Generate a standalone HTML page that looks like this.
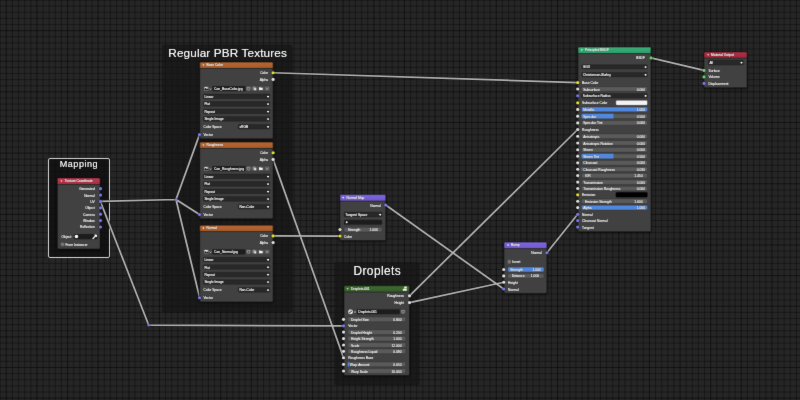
<!DOCTYPE html>
<html><head><meta charset="utf-8"><title>Node Editor</title>
<style>
html,body{margin:0;padding:0;}
body{width:800px;height:400px;overflow:hidden;will-change:transform;background:#262626;position:relative;font-family:"Liberation Sans",sans-serif;color:#eeeeee;}
svg{position:absolute;left:0;top:0;}
div{position:absolute;white-space:nowrap;}
#all{left:0;top:0;width:800px;height:400px;overflow:hidden;background:#262626;filter:url(#soft);}
.f{fill:#141414;fill-opacity:0.68;stroke:#000;stroke-opacity:0.25;stroke-width:0.5;}
.fsel{fill:#0c0c0c;fill-opacity:0.72;stroke:#d4d4d4;stroke-width:1;}
.fl{color:#fafafa;text-shadow:0 0 0 rgba(250,250,250,0.7),0 0.4px 1px rgba(0,0,0,0.8);}
.nb{fill:#414141;}
.no{fill:none;stroke:#141414;stroke-width:0.6;}
.sk{stroke:#0c0c0c;stroke-width:0.45;paint-order:stroke;}
.dd{fill:#282828;stroke:#1a1a1a;stroke-width:0.35;}
.nf{fill:#5a5a5a;stroke:#2c2c2c;stroke-width:0.35;}
.tf{fill:#1c1c1c;stroke:#353535;stroke-width:0.35;}
.bt{fill:#5a5a5a;stroke:#2e2e2e;stroke-width:0.35;}
.sw{stroke:#1a1a1a;stroke-width:0.35;}
.cb{fill:#747474;stroke:#929292;stroke-width:0.45;}
.t{color:#eeeeee;font-size:3.3px;line-height:4px;text-shadow:0 0 0 #eeeeee,0 0.3px 0.7px rgba(0,0,0,0.9);}
</style>
</head><body>
<svg width="0" height="0"><defs><filter id="soft" x="0" y="0" width="100%" height="100%" color-interpolation-filters="sRGB"><feConvolveMatrix order="3" kernelMatrix="0.0064 0.0672 0.0064 0.0672 0.7056 0.0672 0.0064 0.0672 0.0064" edgeMode="duplicate" preserveAlpha="true"/></filter></defs></svg>
<div id="all">
<svg width="800" height="400" viewBox="0 0 800 400">
<defs><filter id="sh" x="-20%" y="-20%" width="140%" height="140%"><feGaussianBlur stdDeviation="1.1"/></filter><linearGradient id="g1" x1="0" y1="0" x2="0" y2="1"><stop offset="0" stop-color="#c83a50"/><stop offset="1" stop-color="#a82c42"/></linearGradient><linearGradient id="g2" x1="0" y1="0" x2="0" y2="1"><stop offset="0" stop-color="#ba6833"/><stop offset="1" stop-color="#a6592a"/></linearGradient><linearGradient id="g3" x1="0" y1="0" x2="0" y2="1"><stop offset="0" stop-color="#ba6833"/><stop offset="1" stop-color="#a6592a"/></linearGradient><linearGradient id="g4" x1="0" y1="0" x2="0" y2="1"><stop offset="0" stop-color="#ba6833"/><stop offset="1" stop-color="#a6592a"/></linearGradient><linearGradient id="g5" x1="0" y1="0" x2="0" y2="1"><stop offset="0" stop-color="#8068e0"/><stop offset="1" stop-color="#7058cc"/></linearGradient><linearGradient id="g6" x1="0" y1="0" x2="0" y2="1"><stop offset="0" stop-color="#3f6b31"/><stop offset="1" stop-color="#355f28"/></linearGradient><linearGradient id="g7" x1="0" y1="0" x2="0" y2="1"><stop offset="0" stop-color="#8068e0"/><stop offset="1" stop-color="#7058cc"/></linearGradient><linearGradient id="g8" x1="0" y1="0" x2="0" y2="1"><stop offset="0" stop-color="#3bb07a"/><stop offset="1" stop-color="#2c9f69"/></linearGradient><linearGradient id="g9" x1="0" y1="0" x2="0" y2="1"><stop offset="0" stop-color="#b63248"/><stop offset="1" stop-color="#9e2638"/></linearGradient></defs>
<path d="M-18.2 0V400M-12.07 0V400M-5.95 0V400M0.18 0V400M12.43 0V400M18.55 0V400M24.68 0V400M30.8 0V400M43.05 0V400M49.17 0V400M55.3 0V400M61.42 0V400M73.67 0V400M79.8 0V400M85.92 0V400M92.05 0V400M104.3 0V400M110.42 0V400M116.55 0V400M122.67 0V400M134.93 0V400M141.05 0V400M147.18 0V400M153.3 0V400M165.55 0V400M171.68 0V400M177.8 0V400M183.93 0V400M196.18 0V400M202.3 0V400M208.43 0V400M214.55 0V400M226.8 0V400M232.93 0V400M239.05 0V400M245.18 0V400M257.43 0V400M263.55 0V400M269.68 0V400M275.8 0V400M288.05 0V400M294.18 0V400M300.3 0V400M306.43 0V400M318.68 0V400M324.8 0V400M330.93 0V400M337.05 0V400M349.3 0V400M355.43 0V400M361.55 0V400M367.68 0V400M379.93 0V400M386.05 0V400M392.18 0V400M398.3 0V400M410.55 0V400M416.68 0V400M422.8 0V400M428.93 0V400M441.18 0V400M447.3 0V400M453.43 0V400M459.55 0V400M471.8 0V400M477.93 0V400M484.05 0V400M490.18 0V400M502.43 0V400M508.55 0V400M514.67 0V400M520.8 0V400M533.05 0V400M539.17 0V400M545.3 0V400M551.42 0V400M563.67 0V400M569.8 0V400M575.92 0V400M582.05 0V400M594.3 0V400M600.42 0V400M606.55 0V400M612.67 0V400M624.92 0V400M631.05 0V400M637.17 0V400M643.3 0V400M655.55 0V400M661.67 0V400M667.8 0V400M673.92 0V400M686.17 0V400M692.3 0V400M698.42 0V400M704.55 0V400M716.8 0V400M722.92 0V400M729.05 0V400M735.17 0V400M747.42 0V400M753.55 0V400M759.67 0V400M765.8 0V400M778.05 0V400M784.17 0V400M790.3 0V400M796.42 0V400M0 -24.5H800M0 -18.38H800M0 -12.25H800M0 -6.12H800M0 6.12H800M0 12.25H800M0 18.38H800M0 24.5H800M0 36.75H800M0 42.88H800M0 49H800M0 55.12H800M0 67.38H800M0 73.5H800M0 79.62H800M0 85.75H800M0 98H800M0 104.12H800M0 110.25H800M0 116.38H800M0 128.62H800M0 134.75H800M0 140.88H800M0 147H800M0 159.25H800M0 165.38H800M0 171.5H800M0 177.62H800M0 189.88H800M0 196H800M0 202.12H800M0 208.25H800M0 220.5H800M0 226.62H800M0 232.75H800M0 238.88H800M0 251.12H800M0 257.25H800M0 263.38H800M0 269.5H800M0 281.75H800M0 287.88H800M0 294H800M0 300.12H800M0 312.38H800M0 318.5H800M0 324.62H800M0 330.75H800M0 343H800M0 349.12H800M0 355.25H800M0 361.38H800M0 373.62H800M0 379.75H800M0 385.88H800M0 392H800" stroke="#0a0a0a" stroke-width="0.47" fill="none"/>
<path d="M-24.32 0V400M6.3 0V400M36.92 0V400M67.55 0V400M98.17 0V400M128.8 0V400M159.43 0V400M190.05 0V400M220.68 0V400M251.3 0V400M281.93 0V400M312.55 0V400M343.18 0V400M373.8 0V400M404.43 0V400M435.05 0V400M465.68 0V400M496.3 0V400M526.92 0V400M557.55 0V400M588.17 0V400M618.8 0V400M649.42 0V400M680.05 0V400M710.67 0V400M741.3 0V400M771.92 0V400M0 -30.62H800M0 0H800M0 30.62H800M0 61.25H800M0 91.88H800M0 122.5H800M0 153.12H800M0 183.75H800M0 214.38H800M0 245H800M0 275.62H800M0 306.25H800M0 336.88H800M0 367.5H800M0 398.12H800" stroke="#050505" stroke-width="0.56" fill="none"/>
<rect x="162.4" y="45" width="130" height="267.4" rx="2" class="f"/>
<rect x="334.5" y="262.5" width="84.8" height="122.5" rx="2" class="f"/>
<rect x="48.5" y="158.5" width="61" height="99" rx="1.5" class="fsel"/>
<path d="M273.1 72.75L577.7 82.55M273.1 159.4L343.55 357.75M273.1 235.9L340 236M100.4 201.46L176 199.5M176 199.5L199.5 134.6M176 199.5L199.5 214.6M176 199.5L199.6 297.5M100.4 201.46L148.75 325.2M148.75 325.2L343.55 325.9M385.7 205L503.75 289M409.5 295.8L577.7 129.5M409.5 302.6L503.75 282.25M546.9 252.75L577.7 214.3M651 57.95L704 70.4" stroke="#0a0a0a" stroke-width="2.9" fill="none" stroke-linecap="round" opacity="0.85"/>
<path d="M273.1 72.75L577.7 82.55M273.1 159.4L343.55 357.75M273.1 235.9L340 236M100.4 201.46L176 199.5M176 199.5L199.5 134.6M176 199.5L199.5 214.6M176 199.5L199.6 297.5M100.4 201.46L148.75 325.2M148.75 325.2L343.55 325.9M385.7 205L503.75 289M409.5 295.8L577.7 129.5M409.5 302.6L503.75 282.25M546.9 252.75L577.7 214.3M651 57.95L704 70.4" stroke="#b6b6b6" stroke-width="1.75" fill="none" stroke-linecap="round"/>
<circle cx="176" cy="199.5" r="1.3" fill="#7a7af0" class="sk"/>
<circle cx="148.75" cy="325.2" r="1.3" fill="#7a7af0" class="sk"/>
<rect x="56.75" y="178.1" width="43.95" height="72.3" rx="2" fill="#000" opacity="0.5" filter="url(#sh)"/>
<rect x="57.35" y="177.9" width="42.75" height="71.1" rx="1.3" class="nb"/>
<path d="M57.35 184.1V179.2Q57.35 177.9 58.65 177.9H98.8Q100.1 177.9 100.1 179.2V184.1Z" fill="url(#g1)"/>
<path d="M57.35 184.45H100.1" stroke="#000" stroke-opacity="0.5" stroke-width="0.7"/>
<rect x="57.35" y="177.9" width="42.75" height="71.1" rx="1.3" class="no"/>
<path d="M60.4 180.4h2l-1 1.6z" fill="#ffffff"/>
<circle cx="100.5" cy="188.7" r="1.6" fill="#7a7af0" class="sk"/>
<circle cx="100.5" cy="195.08" r="1.6" fill="#7a7af0" class="sk"/>
<circle cx="100.5" cy="201.46" r="1.6" fill="#7a7af0" class="sk"/>
<circle cx="100.5" cy="207.84" r="1.6" fill="#7a7af0" class="sk"/>
<circle cx="100.5" cy="214.22" r="1.6" fill="#7a7af0" class="sk"/>
<circle cx="100.5" cy="220.6" r="1.6" fill="#7a7af0" class="sk"/>
<circle cx="100.5" cy="226.98" r="1.6" fill="#7a7af0" class="sk"/>
<rect x="73.9" y="233.95" width="23.7" height="5.3" rx="1.5" class="tf"/>
<circle cx="76.45" cy="236.6" r="1.75" fill="#ffffff"/>
<path d="M93 238.5l3.4 -3.4" stroke="#ffffff" stroke-width="1.2" stroke-linecap="round"/><path d="M95.1 235l1.3 1.3" stroke="#ffffff" stroke-width="1.5" stroke-linecap="round"/>
<rect x="61.2" y="242.9" width="2.7" height="2.8" rx="0.6" class="cb"/>
<rect x="199.15" y="62.3" width="74.55" height="77.85" rx="2" fill="#000" opacity="0.5" filter="url(#sh)"/>
<rect x="199.75" y="62.1" width="73.35" height="76.65" rx="1.3" class="nb"/>
<path d="M199.75 68.05V63.4Q199.75 62.1 201.05 62.1H271.8Q273.1 62.1 273.1 63.4V68.05Z" fill="url(#g2)"/>
<path d="M199.75 68.4H273.1" stroke="#000" stroke-opacity="0.5" stroke-width="0.7"/>
<rect x="199.75" y="62.1" width="73.35" height="76.65" rx="1.3" class="no"/>
<path d="M202.4 64.47h2l-1 1.6z" fill="#ffffff"/>
<circle cx="273.1" cy="72.75" r="1.6" fill="#e6e62e" class="sk"/>
<circle cx="273.1" cy="79.4" r="1.6" fill="#e0e0e0" class="sk"/>
<rect x="203.75" y="86" width="5.15" height="5.25" rx="1" class="bt" style="fill:#626262"/>
<rect x="245.5" y="86" width="24.5" height="5.25" rx="1" class="bt" style="fill:#565656"/>
<rect x="212.3" y="86" width="33.1" height="5.25" rx="0.8" class="tf"/>
<path d="M251.5 86V91.25" stroke="#2e2e2e" stroke-width="0.4"/>
<path d="M257.8 86V91.25" stroke="#2e2e2e" stroke-width="0.4"/>
<path d="M264.1 86V91.25" stroke="#2e2e2e" stroke-width="0.4"/>
<rect x="204.5" y="86.92" width="3.6" height="3.4" rx="0.4" fill="#f2f2f2"/>
<path d="M204.5 90.33v-1.5l1.2 -1l1 1.2l1.4 -0.8v2.1z" fill="#222"/>
<circle cx="207.2" cy="87.72" r="0.45" fill="#222"/>
<path d="M209.7 88.56l0.8 0.76l0.8 -0.76" stroke="#ffffff" stroke-width="0.8" fill="none"/>
<path d="M247.15 87.33h2.6v1.5q-0.1 0.9 -1.3 1.4q-1.2 -0.5 -1.3 -1.4z" fill="none" stroke="#cfcfcf" stroke-width="0.45"/>
<rect x="253.15" y="87.12" width="2.2" height="2.2" rx="0.3" fill="none" stroke="#e0e0e0" stroke-width="0.5"/>
<rect x="254.15" y="88.12" width="2.1" height="2.1" rx="0.3" fill="#e0e0e0"/>
<path d="M259.05 90.12v-2.6q0 -0.3 0.3 -0.3h1l0.4 0.5h1.6q0.3 0 0.3 0.3v0.4h0.3l-0.5 1.7z" fill="#f4f4f4"/>
<path d="M266.05 87.53l2.2 2.2m0 -2.2l-2.2 2.2" stroke="#d8d8d8" stroke-width="0.5"/>
<rect x="203.1" y="94.1" width="66.9" height="4.65" rx="1.3" class="dd"/>
<path d="M267.25 96.14l0.85 0.81l0.85 -0.81" stroke="#ffffff" stroke-width="1.15" fill="none"/>
<rect x="203.1" y="101.57" width="66.9" height="4.65" rx="1.3" class="dd"/>
<path d="M267.25 103.61l0.85 0.81l0.85 -0.81" stroke="#ffffff" stroke-width="1.15" fill="none"/>
<rect x="203.1" y="109.04" width="66.9" height="4.65" rx="1.3" class="dd"/>
<path d="M267.25 111.08l0.85 0.81l0.85 -0.81" stroke="#ffffff" stroke-width="1.15" fill="none"/>
<rect x="203.1" y="116.51" width="66.9" height="4.65" rx="1.3" class="dd"/>
<path d="M267.25 118.55l0.85 0.81l0.85 -0.81" stroke="#ffffff" stroke-width="1.15" fill="none"/>
<rect x="238.1" y="124.4" width="31.9" height="4.6" rx="1.3" class="dd"/>
<path d="M267.25 126.42l0.85 0.81l0.85 -0.81" stroke="#ffffff" stroke-width="1.15" fill="none"/>
<circle cx="199.5" cy="134.6" r="1.6" fill="#7a7af0" class="sk"/>
<rect x="199.15" y="142.3" width="74.55" height="77.85" rx="2" fill="#000" opacity="0.5" filter="url(#sh)"/>
<rect x="199.75" y="142.1" width="73.35" height="76.65" rx="1.3" class="nb"/>
<path d="M199.75 148.05V143.4Q199.75 142.1 201.05 142.1H271.8Q273.1 142.1 273.1 143.4V148.05Z" fill="url(#g3)"/>
<path d="M199.75 148.4H273.1" stroke="#000" stroke-opacity="0.5" stroke-width="0.7"/>
<rect x="199.75" y="142.1" width="73.35" height="76.65" rx="1.3" class="no"/>
<path d="M202.4 144.47h2l-1 1.6z" fill="#ffffff"/>
<circle cx="273.1" cy="152.75" r="1.6" fill="#e6e62e" class="sk"/>
<circle cx="273.1" cy="159.4" r="1.6" fill="#e0e0e0" class="sk"/>
<rect x="203.75" y="166" width="5.15" height="5.25" rx="1" class="bt" style="fill:#626262"/>
<rect x="245.5" y="166" width="24.5" height="5.25" rx="1" class="bt" style="fill:#565656"/>
<rect x="212.3" y="166" width="33.1" height="5.25" rx="0.8" class="tf"/>
<path d="M251.5 166V171.25" stroke="#2e2e2e" stroke-width="0.4"/>
<path d="M257.8 166V171.25" stroke="#2e2e2e" stroke-width="0.4"/>
<path d="M264.1 166V171.25" stroke="#2e2e2e" stroke-width="0.4"/>
<rect x="204.5" y="166.93" width="3.6" height="3.4" rx="0.4" fill="#f2f2f2"/>
<path d="M204.5 170.32v-1.5l1.2 -1l1 1.2l1.4 -0.8v2.1z" fill="#222"/>
<circle cx="207.2" cy="167.72" r="0.45" fill="#222"/>
<path d="M209.7 168.56l0.8 0.76l0.8 -0.76" stroke="#ffffff" stroke-width="0.8" fill="none"/>
<path d="M247.15 167.32h2.6v1.5q-0.1 0.9 -1.3 1.4q-1.2 -0.5 -1.3 -1.4z" fill="none" stroke="#cfcfcf" stroke-width="0.45"/>
<rect x="253.15" y="167.12" width="2.2" height="2.2" rx="0.3" fill="none" stroke="#e0e0e0" stroke-width="0.5"/>
<rect x="254.15" y="168.12" width="2.1" height="2.1" rx="0.3" fill="#e0e0e0"/>
<path d="M259.05 170.12v-2.6q0 -0.3 0.3 -0.3h1l0.4 0.5h1.6q0.3 0 0.3 0.3v0.4h0.3l-0.5 1.7z" fill="#f4f4f4"/>
<path d="M266.05 167.53l2.2 2.2m0 -2.2l-2.2 2.2" stroke="#d8d8d8" stroke-width="0.5"/>
<rect x="203.1" y="174.1" width="66.9" height="4.65" rx="1.3" class="dd"/>
<path d="M267.25 176.14l0.85 0.81l0.85 -0.81" stroke="#ffffff" stroke-width="1.15" fill="none"/>
<rect x="203.1" y="181.57" width="66.9" height="4.65" rx="1.3" class="dd"/>
<path d="M267.25 183.61l0.85 0.81l0.85 -0.81" stroke="#ffffff" stroke-width="1.15" fill="none"/>
<rect x="203.1" y="189.04" width="66.9" height="4.65" rx="1.3" class="dd"/>
<path d="M267.25 191.08l0.85 0.81l0.85 -0.81" stroke="#ffffff" stroke-width="1.15" fill="none"/>
<rect x="203.1" y="196.51" width="66.9" height="4.65" rx="1.3" class="dd"/>
<path d="M267.25 198.55l0.85 0.81l0.85 -0.81" stroke="#ffffff" stroke-width="1.15" fill="none"/>
<rect x="238.1" y="204.4" width="31.9" height="4.6" rx="1.3" class="dd"/>
<path d="M267.25 206.42l0.85 0.81l0.85 -0.81" stroke="#ffffff" stroke-width="1.15" fill="none"/>
<circle cx="199.5" cy="214.6" r="1.6" fill="#7a7af0" class="sk"/>
<rect x="199.15" y="225.45" width="74.55" height="77.85" rx="2" fill="#000" opacity="0.5" filter="url(#sh)"/>
<rect x="199.75" y="225.25" width="73.35" height="76.65" rx="1.3" class="nb"/>
<path d="M199.75 231.2V226.55Q199.75 225.25 201.05 225.25H271.8Q273.1 225.25 273.1 226.55V231.2Z" fill="url(#g4)"/>
<path d="M199.75 231.55H273.1" stroke="#000" stroke-opacity="0.5" stroke-width="0.7"/>
<rect x="199.75" y="225.25" width="73.35" height="76.65" rx="1.3" class="no"/>
<path d="M202.4 227.62h2l-1 1.6z" fill="#ffffff"/>
<circle cx="273.1" cy="235.9" r="1.6" fill="#e6e62e" class="sk"/>
<circle cx="273.1" cy="242.55" r="1.6" fill="#e0e0e0" class="sk"/>
<rect x="203.75" y="249.15" width="5.15" height="5.25" rx="1" class="bt" style="fill:#626262"/>
<rect x="245.5" y="249.15" width="24.5" height="5.25" rx="1" class="bt" style="fill:#565656"/>
<rect x="212.3" y="249.15" width="33.1" height="5.25" rx="0.8" class="tf"/>
<path d="M251.5 249.15V254.4" stroke="#2e2e2e" stroke-width="0.4"/>
<path d="M257.8 249.15V254.4" stroke="#2e2e2e" stroke-width="0.4"/>
<path d="M264.1 249.15V254.4" stroke="#2e2e2e" stroke-width="0.4"/>
<rect x="204.5" y="250.08" width="3.6" height="3.4" rx="0.4" fill="#f2f2f2"/>
<path d="M204.5 253.47v-1.5l1.2 -1l1 1.2l1.4 -0.8v2.1z" fill="#222"/>
<circle cx="207.2" cy="250.88" r="0.45" fill="#222"/>
<path d="M209.7 251.72l0.8 0.76l0.8 -0.76" stroke="#ffffff" stroke-width="0.8" fill="none"/>
<path d="M247.15 250.47h2.6v1.5q-0.1 0.9 -1.3 1.4q-1.2 -0.5 -1.3 -1.4z" fill="none" stroke="#cfcfcf" stroke-width="0.45"/>
<rect x="253.15" y="250.28" width="2.2" height="2.2" rx="0.3" fill="none" stroke="#e0e0e0" stroke-width="0.5"/>
<rect x="254.15" y="251.28" width="2.1" height="2.1" rx="0.3" fill="#e0e0e0"/>
<path d="M259.05 253.28v-2.6q0 -0.3 0.3 -0.3h1l0.4 0.5h1.6q0.3 0 0.3 0.3v0.4h0.3l-0.5 1.7z" fill="#f4f4f4"/>
<path d="M266.05 250.68l2.2 2.2m0 -2.2l-2.2 2.2" stroke="#d8d8d8" stroke-width="0.5"/>
<rect x="203.1" y="257.25" width="66.9" height="4.65" rx="1.3" class="dd"/>
<path d="M267.25 259.29l0.85 0.81l0.85 -0.81" stroke="#ffffff" stroke-width="1.15" fill="none"/>
<rect x="203.1" y="264.72" width="66.9" height="4.65" rx="1.3" class="dd"/>
<path d="M267.25 266.76l0.85 0.81l0.85 -0.81" stroke="#ffffff" stroke-width="1.15" fill="none"/>
<rect x="203.1" y="272.19" width="66.9" height="4.65" rx="1.3" class="dd"/>
<path d="M267.25 274.23l0.85 0.81l0.85 -0.81" stroke="#ffffff" stroke-width="1.15" fill="none"/>
<rect x="203.1" y="279.66" width="66.9" height="4.65" rx="1.3" class="dd"/>
<path d="M267.25 281.7l0.85 0.81l0.85 -0.81" stroke="#ffffff" stroke-width="1.15" fill="none"/>
<rect x="238.1" y="287.55" width="31.9" height="4.6" rx="1.3" class="dd"/>
<path d="M267.25 289.57l0.85 0.81l0.85 -0.81" stroke="#ffffff" stroke-width="1.15" fill="none"/>
<circle cx="199.5" cy="297.75" r="1.6" fill="#7a7af0" class="sk"/>
<rect x="339.3" y="194.8" width="47.1" height="47.2" rx="2" fill="#000" opacity="0.5" filter="url(#sh)"/>
<rect x="339.9" y="194.6" width="45.9" height="46" rx="1.3" class="nb"/>
<path d="M339.9 200.8V195.9Q339.9 194.6 341.2 194.6H384.5Q385.8 194.6 385.8 195.9V200.8Z" fill="url(#g5)"/>
<path d="M339.9 201.15H385.8" stroke="#000" stroke-opacity="0.5" stroke-width="0.7"/>
<rect x="339.9" y="194.6" width="45.9" height="46" rx="1.3" class="no"/>
<path d="M342.2 197.1h2l-1 1.6z" fill="#ffffff"/>
<circle cx="385.7" cy="205" r="1.6" fill="#7a7af0" class="sk"/>
<rect x="344" y="212.1" width="38.1" height="4.8" rx="1.3" class="dd"/>
<path d="M379.35 214.22l0.85 0.81l0.85 -0.81" stroke="#ffffff" stroke-width="1.15" fill="none"/>
<rect x="344" y="219.75" width="38.1" height="5" rx="1.3" class="tf"/>
<circle cx="346.7" cy="222.3" r="0.95" fill="#ffffff"/>
<rect x="344" y="227.25" width="38.1" height="4.65" rx="1.3" class="nf"/>
<circle cx="340" cy="229.6" r="1.6" fill="#e0e0e0" class="sk"/>
<circle cx="340" cy="236" r="1.6" fill="#e6e62e" class="sk"/>
<rect x="343.4" y="285.95" width="66.7" height="90.95" rx="2" fill="#000" opacity="0.5" filter="url(#sh)"/>
<rect x="344" y="285.75" width="65.5" height="89.75" rx="1.3" class="nb"/>
<path d="M344 291.7V287.05Q344 285.75 345.3 285.75H408.2Q409.5 285.75 409.5 287.05V291.7Z" fill="url(#g6)"/>
<path d="M344 292.05H409.5" stroke="#000" stroke-opacity="0.5" stroke-width="0.7"/>
<rect x="344" y="285.75" width="65.5" height="89.75" rx="1.3" class="no"/>
<path d="M346.6 288.13h2l-1 1.6z" fill="#ffffff"/>
<rect x="404.2" y="286.4" width="2.6" height="2.2" rx="0.4" fill="#f2f2f2"/><rect x="402.9" y="288.8" width="3.9" height="2" rx="0.4" fill="#f2f2f2"/>
<circle cx="409.5" cy="295.8" r="1.6" fill="#e0e0e0" class="sk"/>
<circle cx="409.5" cy="302.6" r="1.6" fill="#e0e0e0" class="sk"/>
<rect x="400.1" y="309.3" width="5.7" height="4.95" rx="1" class="bt" style="fill:#565656"/>
<rect x="356.75" y="309.3" width="43.15" height="4.95" rx="0.8" class="tf"/>
<circle cx="350.55" cy="311.77" r="2.5" fill="#ffffff" stroke="#1c1c1c" stroke-width="0.3"/>
<path d="M350.55 310.27a1.5 1.5 0 0 1 1.5 1.5h-1.5zM350.55 313.27a1.5 1.5 0 0 1 -1.5 -1.5h1.5z" fill="#1c1c1c"/>
<path d="M354.2 311.71l0.8 0.76l0.8 -0.76" stroke="#ffffff" stroke-width="0.8" fill="none"/>
<path d="M401.7 310.47h2.6v1.5q-0.1 0.9 -1.3 1.4q-1.2 -0.5 -1.3 -1.4z" fill="none" stroke="#cfcfcf" stroke-width="0.45"/>
<rect x="347.75" y="316.95" width="58.05" height="4.8" rx="1.3" class="nf"/>
<circle cx="343.55" cy="319.35" r="1.6" fill="#e0e0e0" class="sk"/>
<rect x="347.75" y="329.7" width="58.05" height="4.8" rx="1.3" class="nf"/>
<circle cx="343.55" cy="332.1" r="1.6" fill="#e0e0e0" class="sk"/>
<rect x="347.75" y="336.15" width="58.05" height="4.8" rx="1.3" class="nf"/>
<circle cx="343.55" cy="338.55" r="1.6" fill="#e0e0e0" class="sk"/>
<rect x="347.75" y="342.6" width="58.05" height="4.8" rx="1.3" class="nf"/>
<circle cx="343.55" cy="345" r="1.6" fill="#e0e0e0" class="sk"/>
<rect x="347.75" y="348.9" width="58.05" height="4.8" rx="1.3" class="nf"/>
<circle cx="343.55" cy="351.3" r="1.6" fill="#e0e0e0" class="sk"/>
<rect x="347.75" y="361.9" width="58.05" height="4.8" rx="1.3" class="nf"/>
<path d="M349.05 361.9H349.32V366.7H349.05Q347.75 366.7 347.75 365.4V363.2Q347.75 361.9 349.05 361.9Z" fill="#5088e0"/>
<circle cx="343.55" cy="364.3" r="1.6" fill="#e0e0e0" class="sk"/>
<rect x="347.75" y="368.6" width="58.05" height="4.8" rx="1.3" class="nf"/>
<circle cx="343.55" cy="371" r="1.6" fill="#e0e0e0" class="sk"/>
<circle cx="343.55" cy="325.8" r="1.6" fill="#7a7af0" class="sk"/>
<circle cx="343.55" cy="357.75" r="1.6" fill="#e0e0e0" class="sk"/>
<rect x="503.4" y="242.3" width="44.1" height="52.5" rx="2" fill="#000" opacity="0.5" filter="url(#sh)"/>
<rect x="504" y="242.1" width="42.9" height="51.3" rx="1.3" class="nb"/>
<path d="M504 248.3V243.4Q504 242.1 505.3 242.1H545.6Q546.9 242.1 546.9 243.4V248.3Z" fill="url(#g7)"/>
<path d="M504 248.65H546.9" stroke="#000" stroke-opacity="0.5" stroke-width="0.7"/>
<rect x="504" y="242.1" width="42.9" height="51.3" rx="1.3" class="no"/>
<path d="M507.1 244.6h2l-1 1.6z" fill="#ffffff"/>
<circle cx="546.9" cy="252.75" r="1.6" fill="#7a7af0" class="sk"/>
<rect x="508" y="260.2" width="2.6" height="3" rx="0.6" class="cb"/>
<rect x="507.75" y="267.1" width="36.25" height="4.8" rx="1.3" class="nf" style="fill:#5088e0"/>
<circle cx="503.75" cy="269.5" r="1.6" fill="#e0e0e0" class="sk"/>
<rect x="507.75" y="273.6" width="36.25" height="4.65" rx="1.3" class="nf"/>
<circle cx="503.75" cy="275.9" r="1.6" fill="#e0e0e0" class="sk"/>
<circle cx="503.75" cy="282.25" r="1.6" fill="#e0e0e0" class="sk"/>
<circle cx="503.75" cy="289" r="1.6" fill="#7a7af0" class="sk"/>
<rect x="577.4" y="47.2" width="74.2" height="185.9" rx="2" fill="#000" opacity="0.5" filter="url(#sh)"/>
<rect x="578" y="47" width="73" height="184.7" rx="1.3" class="nb"/>
<path d="M578 53.2V48.3Q578 47 579.3 47H649.7Q651 47 651 48.3V53.2Z" fill="url(#g8)"/>
<path d="M578 53.55H651" stroke="#000" stroke-opacity="0.5" stroke-width="0.7"/>
<rect x="578" y="47" width="73" height="184.7" rx="1.3" class="no"/>
<path d="M580.8 49.5h2l-1 1.6z" fill="#ffffff"/>
<circle cx="651" cy="57.95" r="1.6" fill="#66d866" class="sk"/>
<rect x="581.5" y="64.7" width="66" height="4.3" rx="1.3" class="dd"/>
<path d="M644.75 66.57l0.85 0.81l0.85 -0.81" stroke="#ffffff" stroke-width="1.15" fill="none"/>
<rect x="581.5" y="72.4" width="66" height="4.5" rx="1.3" class="dd"/>
<path d="M644.75 74.37l0.85 0.81l0.85 -0.81" stroke="#ffffff" stroke-width="1.15" fill="none"/>
<circle cx="577.7" cy="82.55" r="1.6" fill="#e6e62e" class="sk"/>
<rect x="581.5" y="86.65" width="66" height="4.7" rx="1.3" class="nf"/>
<circle cx="577.7" cy="89" r="1.6" fill="#e0e0e0" class="sk"/>
<rect x="581.5" y="93.45" width="66" height="4.6" rx="1.3" class="dd"/>
<path d="M644.75 95.47l0.85 0.81l0.85 -0.81" stroke="#ffffff" stroke-width="1.15" fill="none"/>
<circle cx="577.7" cy="95.75" r="1.6" fill="#7a7af0" class="sk"/>
<circle cx="577.7" cy="102.8" r="1.6" fill="#e6e62e" class="sk"/>
<rect x="615.8" y="100.25" width="31.7" height="5.1" rx="1.3" class="sw" style="fill:#f4f4f4"/>
<rect x="581.5" y="107.05" width="66" height="4.7" rx="1.3" class="nf" style="fill:#5088e0"/>
<circle cx="577.7" cy="109.4" r="1.6" fill="#e0e0e0" class="sk"/>
<rect x="581.5" y="113.8" width="66" height="4.7" rx="1.3" class="nf"/>
<path d="M582.8 113.8H613.51V118.5H582.8Q581.5 118.5 581.5 117.2V115.1Q581.5 113.8 582.8 113.8Z" fill="#5088e0"/>
<circle cx="577.7" cy="116.15" r="1.6" fill="#e0e0e0" class="sk"/>
<rect x="581.5" y="120.55" width="66" height="4.7" rx="1.3" class="nf"/>
<circle cx="577.7" cy="122.9" r="1.6" fill="#e0e0e0" class="sk"/>
<circle cx="577.7" cy="129.5" r="1.6" fill="#e0e0e0" class="sk"/>
<rect x="581.5" y="133.9" width="66" height="4.7" rx="1.3" class="nf"/>
<circle cx="577.7" cy="136.25" r="1.6" fill="#e0e0e0" class="sk"/>
<rect x="581.5" y="140.65" width="66" height="4.7" rx="1.3" class="nf"/>
<circle cx="577.7" cy="143" r="1.6" fill="#e0e0e0" class="sk"/>
<rect x="581.5" y="147.4" width="66" height="4.7" rx="1.3" class="nf"/>
<circle cx="577.7" cy="149.75" r="1.6" fill="#e0e0e0" class="sk"/>
<rect x="581.5" y="153.85" width="66" height="4.7" rx="1.3" class="nf"/>
<path d="M582.8 153.85H613.51V158.55H582.8Q581.5 158.55 581.5 157.25V155.15Q581.5 153.85 582.8 153.85Z" fill="#5088e0"/>
<circle cx="577.7" cy="156.2" r="1.6" fill="#e0e0e0" class="sk"/>
<rect x="581.5" y="160.45" width="66" height="4.7" rx="1.3" class="nf"/>
<circle cx="577.7" cy="162.8" r="1.6" fill="#e0e0e0" class="sk"/>
<rect x="581.5" y="166.9" width="66" height="4.7" rx="1.3" class="nf"/>
<path d="M582.8 166.9H582.29V171.6H582.8Q581.5 171.6 581.5 170.3V168.2Q581.5 166.9 582.8 166.9Z" fill="#5088e0"/>
<circle cx="577.7" cy="169.25" r="1.6" fill="#e0e0e0" class="sk"/>
<rect x="581.5" y="173.2" width="66" height="4.7" rx="1.3" class="nf"/>
<circle cx="577.7" cy="175.55" r="1.6" fill="#e0e0e0" class="sk"/>
<rect x="581.5" y="179.7" width="66" height="4.7" rx="1.3" class="nf"/>
<circle cx="577.7" cy="182.05" r="1.6" fill="#e0e0e0" class="sk"/>
<rect x="581.5" y="186.15" width="66" height="4.7" rx="1.3" class="nf"/>
<circle cx="577.7" cy="188.5" r="1.6" fill="#e0e0e0" class="sk"/>
<circle cx="577.7" cy="194.8" r="1.6" fill="#e6e62e" class="sk"/>
<rect x="615.8" y="192.25" width="31.7" height="5.1" rx="1.3" class="sw" style="fill:#000000"/>
<rect x="581.5" y="198.9" width="66" height="4.7" rx="1.3" class="nf"/>
<circle cx="577.7" cy="201.25" r="1.6" fill="#e0e0e0" class="sk"/>
<rect x="581.5" y="205.2" width="66" height="4.7" rx="1.3" class="nf" style="fill:#5088e0"/>
<circle cx="577.7" cy="207.55" r="1.6" fill="#e0e0e0" class="sk"/>
<circle cx="577.7" cy="214.3" r="1.6" fill="#7a7af0" class="sk"/>
<circle cx="577.7" cy="220.6" r="1.6" fill="#7a7af0" class="sk"/>
<circle cx="577.7" cy="227.05" r="1.6" fill="#7a7af0" class="sk"/>
<rect x="703.4" y="52.1" width="44.3" height="37.05" rx="2" fill="#000" opacity="0.5" filter="url(#sh)"/>
<rect x="704" y="51.9" width="43.1" height="35.85" rx="1.3" class="nb"/>
<path d="M704 57.85V53.2Q704 51.9 705.3 51.9H745.8Q747.1 51.9 747.1 53.2V57.85Z" fill="url(#g9)"/>
<path d="M704 58.2H747.1" stroke="#000" stroke-opacity="0.5" stroke-width="0.7"/>
<rect x="704" y="51.9" width="43.1" height="35.85" rx="1.3" class="no"/>
<path d="M707.1 54.27h2l-1 1.6z" fill="#ffffff"/>
<rect x="708.1" y="60" width="35.3" height="5" rx="1.3" class="dd"/>
<path d="M740.65 62.22l0.85 0.81l0.85 -0.81" stroke="#ffffff" stroke-width="1.15" fill="none"/>
<circle cx="704" cy="70.4" r="1.6" fill="#66d866" class="sk"/>
<circle cx="704" cy="76.9" r="1.6" fill="#66d866" class="sk"/>
<circle cx="704" cy="83.45" r="1.6" fill="#7a7af0" class="sk"/>
</svg>
<div class="fl" style="left:168.3px;top:46px;font-size:11.75px;line-height:14px;letter-spacing:0.13px">Regular PBR Textures</div>
<div class="fl" style="left:353.4px;top:264px;font-size:11.9px;line-height:14px;letter-spacing:0.45px">Droplets</div>
<div class="fl" style="left:59.8px;top:159px;font-size:9px;line-height:11px;letter-spacing:0.53px">Mapping</div>
<div class="t" style="top:179px;left:64.75px;">Texture Coordinate</div>
<div class="t" style="top:187px;right:705.25px;">Generated</div>
<div class="t" style="top:194px;right:705.25px;">Normal</div>
<div class="t" style="top:200px;right:705.25px;">UV</div>
<div class="t" style="top:206px;right:705.25px;">Object</div>
<div class="t" style="top:213px;right:705.25px;">Camera</div>
<div class="t" style="top:219px;right:705.25px;">Window</div>
<div class="t" style="top:225px;right:705.25px;">Reflection</div>
<div class="t" style="top:235px;left:61.5px;">Object:</div>
<div class="t" style="top:243px;left:65.5px;">From Instancer</div>
<div class="t" style="top:63px;left:206.5px;">Base Color</div>
<div class="t" style="top:71px;right:531.9px;">Color</div>
<div class="t" style="top:78px;right:531.9px;">Alpha</div>
<div class="t" style="top:87px;left:214.1px;">Can_BaseColor.jpg</div>
<div class="t" style="top:95px;left:204.4px;">Linear</div>
<div class="t" style="top:102px;left:204.4px;">Flat</div>
<div class="t" style="top:110px;left:204.4px;">Repeat</div>
<div class="t" style="top:117px;left:204.4px;">Single Image</div>
<div class="t" style="top:125px;left:203.5px;">Color Space</div>
<div class="t" style="top:125px;left:239.4px;">sRGB</div>
<div class="t" style="top:133px;left:203.5px;">Vector</div>
<div class="t" style="top:143px;left:206.5px;">Roughness</div>
<div class="t" style="top:151px;right:531.9px;">Color</div>
<div class="t" style="top:158px;right:531.9px;">Alpha</div>
<div class="t" style="top:167px;left:214.1px;">Can_Roughness.jpg</div>
<div class="t" style="top:175px;left:204.4px;">Linear</div>
<div class="t" style="top:182px;left:204.4px;">Flat</div>
<div class="t" style="top:190px;left:204.4px;">Repeat</div>
<div class="t" style="top:197px;left:204.4px;">Single Image</div>
<div class="t" style="top:205px;left:203.5px;">Color Space</div>
<div class="t" style="top:205px;left:239.4px;">Non-Color</div>
<div class="t" style="top:213px;left:203.5px;">Vector</div>
<div class="t" style="top:226px;left:206.5px;">Normal</div>
<div class="t" style="top:234px;right:531.9px;">Color</div>
<div class="t" style="top:241px;right:531.9px;">Alpha</div>
<div class="t" style="top:250px;left:214.1px;">Can_Normal.jpg</div>
<div class="t" style="top:258px;left:204.4px;">Linear</div>
<div class="t" style="top:266px;left:204.4px;">Flat</div>
<div class="t" style="top:273px;left:204.4px;">Repeat</div>
<div class="t" style="top:280px;left:204.4px;">Single Image</div>
<div class="t" style="top:288px;left:203.5px;">Color Space</div>
<div class="t" style="top:288px;left:239.4px;">Non-Color</div>
<div class="t" style="top:296px;left:203.5px;">Vector</div>
<div class="t" style="top:196px;left:346.5px;">Normal Map</div>
<div class="t" style="top:204px;right:419.1px;">Normal</div>
<div class="t" style="top:213px;left:345.3px;">Tangent Space</div>
<div class="t" style="top:228px;left:347.75px;">Strength</div>
<div class="t" style="top:228px;right:422.2px;">1.000</div>
<div class="t" style="top:235px;left:344px;">Color</div>
<div class="t" style="top:287px;left:351px;">Droplets.001</div>
<div class="t" style="top:294px;right:396px;">Roughness</div>
<div class="t" style="top:301px;right:396px;">Height</div>
<div class="t" style="top:310px;left:358.25px;">Droplets.001</div>
<div class="t" style="top:318px;left:351px;">Droplet Size</div>
<div class="t" style="top:318px;right:398.5px;">0.800</div>
<div class="t" style="top:331px;left:351px;">Droplet Height</div>
<div class="t" style="top:331px;right:398.5px;">0.200</div>
<div class="t" style="top:337px;left:351px;">Height Strength</div>
<div class="t" style="top:337px;right:398.5px;">1.000</div>
<div class="t" style="top:344px;left:351px;">Scale</div>
<div class="t" style="top:344px;right:398.5px;">12.000</div>
<div class="t" style="top:350px;left:351px;">Roughness Liquid</div>
<div class="t" style="top:350px;right:398.5px;">0.080</div>
<div class="t" style="top:363px;left:349.7px;">Warp Amount</div>
<div class="t" style="top:363px;right:398.5px;">0.050</div>
<div class="t" style="top:370px;left:351px;">Warp Scale</div>
<div class="t" style="top:370px;right:398.5px;">10.000</div>
<div class="t" style="top:324px;left:348.2px;">Vector</div>
<div class="t" style="top:356px;left:348.2px;">Roughness Base</div>
<div class="t" style="top:243px;left:510.9px;">Bump</div>
<div class="t" style="top:251px;right:258.1px;">Normal</div>
<div class="t" style="top:260px;left:512.25px;">Invert</div>
<div class="t" style="top:268px;left:510.35px;">Strength</div>
<div class="t" style="top:268px;right:259.3px;">1.000</div>
<div class="t" style="top:274px;left:511.65px;">Distance</div>
<div class="t" style="top:274px;right:260.9px;">1.000</div>
<div class="t" style="top:281px;left:508.1px;">Height</div>
<div class="t" style="top:288px;left:508.1px;">Normal</div>
<div class="t" style="top:48px;left:584.75px;">Principled BSDF</div>
<div class="t" style="top:56px;right:155px;">BSDF</div>
<div class="t" style="top:65px;left:582.8px;">GGX</div>
<div class="t" style="top:73px;left:582.8px;">Christensen-Burley</div>
<div class="t" style="top:81px;left:582px;">Base Color</div>
<div class="t" style="top:88px;left:583.25px;">Subsurface</div>
<div class="t" style="top:88px;right:155px;">0.000</div>
<div class="t" style="top:94px;left:582.8px;">Subsurface Radius</div>
<div class="t" style="top:101px;left:582px;">Subsurface Color</div>
<div class="t" style="top:108px;left:583.25px;">Metallic</div>
<div class="t" style="top:108px;right:155px;">1.000</div>
<div class="t" style="top:115px;left:583.25px;">Specular</div>
<div class="t" style="top:115px;right:155px;">0.500</div>
<div class="t" style="top:121px;left:583.25px;">Specular Tint</div>
<div class="t" style="top:121px;right:155px;">0.000</div>
<div class="t" style="top:128px;left:582px;">Roughness</div>
<div class="t" style="top:135px;left:583.25px;">Anisotropic</div>
<div class="t" style="top:135px;right:155px;">0.000</div>
<div class="t" style="top:142px;left:583.25px;">Anisotropic Rotation</div>
<div class="t" style="top:142px;right:155px;">0.000</div>
<div class="t" style="top:148px;left:583.25px;">Sheen</div>
<div class="t" style="top:148px;right:155px;">0.000</div>
<div class="t" style="top:155px;left:583.25px;">Sheen Tint</div>
<div class="t" style="top:155px;right:155px;">0.500</div>
<div class="t" style="top:161px;left:583.25px;">Clearcoat</div>
<div class="t" style="top:161px;right:155px;">0.000</div>
<div class="t" style="top:168px;left:583.25px;">Clearcoat Roughness</div>
<div class="t" style="top:168px;right:155px;">0.030</div>
<div class="t" style="top:174px;left:584.9px;">IOR</div>
<div class="t" style="top:174px;right:157.5px;">1.450</div>
<div class="t" style="top:181px;left:583.25px;">Transmission</div>
<div class="t" style="top:181px;right:155px;">0.000</div>
<div class="t" style="top:187px;left:583.25px;">Transmission Roughness</div>
<div class="t" style="top:187px;right:155px;">0.000</div>
<div class="t" style="top:193px;left:582px;">Emission</div>
<div class="t" style="top:200px;left:584.9px;">Emission Strength</div>
<div class="t" style="top:200px;right:157.5px;">1.000</div>
<div class="t" style="top:206px;left:583.25px;">Alpha</div>
<div class="t" style="top:206px;right:155px;">1.000</div>
<div class="t" style="top:213px;left:582px;">Normal</div>
<div class="t" style="top:219px;left:582px;">Clearcoat Normal</div>
<div class="t" style="top:226px;left:582px;">Tangent</div>
<div class="t" style="top:53px;left:711.1px;">Material Output</div>
<div class="t" style="top:61px;left:709.4px;">All</div>
<div class="t" style="top:69px;left:708.5px;">Surface</div>
<div class="t" style="top:75px;left:708.5px;">Volume</div>
<div class="t" style="top:82px;left:708.5px;">Displacement</div>
</div>
</body></html>
